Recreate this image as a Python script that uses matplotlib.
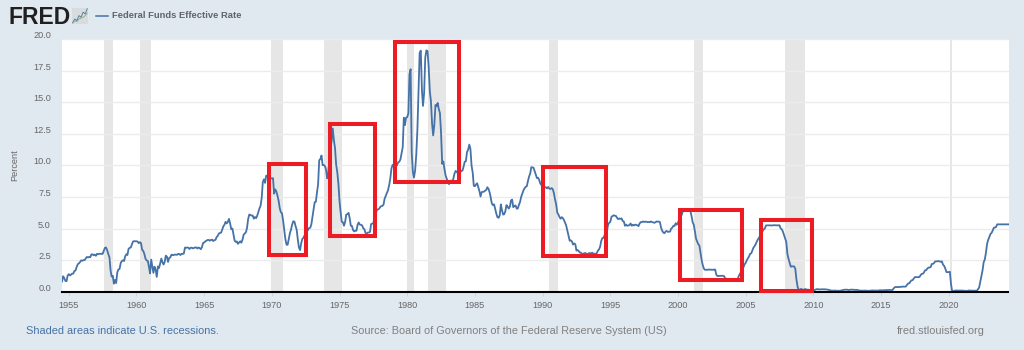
import matplotlib
matplotlib.use('Agg')
import matplotlib.pyplot as plt
from matplotlib.patches import Rectangle
from matplotlib.transforms import ScaledTranslation
import pandas as pd

plt.rcParams['font.family'] = ['Liberation Sans', 'DejaVu Sans']

# Monthly effective rate, Jul 1954 onward.
rate = [
    0.80, 1.22, 1.07, 0.85, 0.83, 1.28,
    1.39, 1.29, 1.35, 1.43, 1.43, 1.64, 1.68, 1.96, 2.18, 2.24, 2.35, 2.48,
    2.45, 2.50, 2.50, 2.62, 2.75, 2.71, 2.75, 2.73, 2.95, 2.96, 2.88, 2.94,
    2.84, 3.00, 2.96, 3.00, 3.00, 3.00, 2.99, 3.24, 3.47, 3.50, 3.28, 2.98,
    2.72, 1.67, 1.20, 1.26, 0.63, 0.93, 0.68, 1.53, 1.76, 1.80, 2.27, 2.42,
    2.48, 2.43, 2.80, 2.96, 2.90, 3.39, 3.47, 3.50, 3.76, 3.98, 4.00, 3.99,
    3.99, 3.97, 3.84, 3.92, 3.85, 3.32, 3.23, 2.98, 2.60, 2.47, 2.44, 1.98,
    1.45, 2.54, 2.02, 1.49, 1.98, 1.73, 1.17, 2.00, 1.88, 2.26, 2.62, 2.33,
    2.15, 2.37, 2.85, 2.78, 2.36, 2.68, 2.71, 2.93, 2.90, 2.90, 2.94, 2.93,
    2.92, 3.00, 2.98, 2.90, 3.00, 2.99, 3.02, 3.49, 3.48, 3.50, 3.48, 3.38,
    3.48, 3.48, 3.43, 3.47, 3.50, 3.50, 3.42, 3.50, 3.45, 3.36, 3.52, 3.85,
    3.90, 3.98, 4.04, 4.09, 4.10, 4.04, 4.09, 4.12, 4.01, 4.08, 4.10, 4.32,
    4.42, 4.60, 4.65, 4.67, 4.90, 5.17, 5.30, 5.53, 5.40, 5.53, 5.76, 5.40,
    4.94, 5.00, 4.53, 4.05, 3.94, 3.98, 3.79, 3.90, 3.99, 3.88, 4.13, 4.51,
    4.61, 4.71, 5.05, 5.76, 6.11, 6.07, 6.02, 6.03, 5.78, 5.91, 5.82, 6.02,
    6.30, 6.61, 6.79, 7.41, 8.67, 8.90, 8.61, 9.19, 9.15, 9.00, 8.85, 8.97,
    8.98, 8.98, 7.76, 8.10, 7.94, 7.60, 7.21, 6.61, 6.29, 6.20, 5.60, 4.90,
    4.14, 3.72, 3.71, 4.15, 4.63, 4.91, 5.31, 5.57, 5.55, 5.20, 4.91, 4.14,
    3.50, 3.29, 3.83, 4.17, 4.27, 4.46, 4.55, 4.80, 4.87, 5.04, 5.06, 5.33,
    5.94, 6.58, 7.09, 7.12, 7.84, 8.49, 10.40, 10.50, 10.78, 10.01, 10.03, 9.95,
    9.65, 8.97, 9.35, 10.51, 11.31, 11.93, 12.92, 12.01, 11.34, 10.06, 9.45, 8.53,
    7.13, 6.24, 5.54, 5.49, 5.22, 5.55, 6.10, 6.14, 6.24, 5.82, 5.22, 5.20,
    4.87, 4.77, 4.84, 4.82, 5.29, 5.48, 5.31, 5.29, 5.25, 5.02, 4.95, 4.65,
    4.61, 4.68, 4.69, 4.73, 5.35, 5.39, 5.42, 5.90, 6.14, 6.47, 6.51, 6.56,
    6.70, 6.78, 6.79, 6.89, 7.36, 7.60, 7.81, 8.04, 8.45, 8.96, 9.76, 10.03,
    10.07, 10.06, 10.09, 10.01, 10.24, 10.29, 10.47, 10.94, 11.43, 13.77, 13.18, 13.78,
    13.82, 14.13, 17.19, 17.61, 10.98, 9.47, 9.03, 9.61, 10.87, 12.81, 15.85, 18.90,
    19.08, 15.93, 14.70, 15.72, 18.52, 19.10, 19.04, 17.82, 15.87, 15.08, 13.31, 12.37,
    13.22, 14.78, 14.68, 14.94, 14.45, 14.15, 12.59, 10.12, 10.31, 9.71, 9.20, 8.95,
    8.68, 8.51, 8.77, 8.80, 8.63, 8.98, 9.37, 9.56, 9.45, 9.48, 9.34, 9.47,
    9.56, 9.59, 9.91, 10.29, 10.32, 11.06, 11.23, 11.64, 11.30, 9.99, 9.43, 8.38,
    8.35, 8.50, 8.58, 8.27, 7.97, 7.53, 7.88, 7.90, 7.92, 7.99, 8.05, 8.27,
    8.14, 7.86, 7.48, 6.99, 6.85, 6.92, 6.56, 6.17, 5.89, 5.85, 6.04, 6.91,
    6.43, 6.10, 6.13, 6.37, 6.85, 6.73, 6.58, 6.73, 7.22, 7.29, 6.69, 6.77,
    6.83, 6.58, 6.58, 6.87, 7.09, 7.51, 7.75, 8.01, 8.19, 8.30, 8.35, 8.76,
    9.12, 9.36, 9.85, 9.84, 9.81, 9.53, 9.24, 8.99, 9.02, 8.84, 8.55, 8.45,
    8.23, 8.24, 8.28, 8.26, 8.18, 8.29, 8.15, 8.13, 8.20, 8.11, 7.81, 7.31,
    6.91, 6.25, 6.12, 5.91, 5.78, 5.90, 5.82, 5.66, 5.45, 5.21, 4.81, 4.43,
    4.03, 4.06, 3.98, 3.73, 3.82, 3.76, 3.25, 3.30, 3.22, 3.10, 3.09, 2.92,
    3.02, 3.03, 3.07, 2.96, 3.00, 3.04, 3.06, 3.03, 3.09, 2.99, 3.02, 2.96,
    3.05, 3.25, 3.34, 3.56, 4.01, 4.25, 4.26, 4.47, 4.73, 4.76, 5.29, 5.45,
    5.53, 5.92, 5.98, 6.05, 6.01, 6.00, 5.85, 5.74, 5.80, 5.76, 5.80, 5.60,
    5.56, 5.22, 5.31, 5.22, 5.24, 5.27, 5.40, 5.22, 5.30, 5.24, 5.31, 5.29,
    5.25, 5.19, 5.39, 5.51, 5.50, 5.56, 5.52, 5.54, 5.54, 5.50, 5.52, 5.50,
    5.56, 5.51, 5.49, 5.45, 5.49, 5.56, 5.54, 5.55, 5.51, 5.07, 4.83, 4.68,
    4.63, 4.76, 4.81, 4.74, 4.74, 4.76, 4.99, 5.07, 5.22, 5.20, 5.42, 5.30,
    5.45, 5.73, 5.85, 6.02, 6.27, 6.53, 6.54, 6.50, 6.52, 6.51, 6.51, 6.40,
    5.98, 5.49, 5.31, 4.80, 4.21, 3.97, 3.77, 3.65, 3.07, 2.49, 2.09, 1.82,
    1.73, 1.74, 1.73, 1.75, 1.75, 1.75, 1.73, 1.74, 1.75, 1.75, 1.34, 1.24,
    1.24, 1.26, 1.25, 1.26, 1.26, 1.22, 1.01, 1.03, 1.01, 1.01, 1.00, 0.98,
    1.00, 1.01, 1.00, 1.00, 1.00, 1.03, 1.26, 1.43, 1.61, 1.76, 1.93, 2.16,
    2.28, 2.50, 2.63, 2.79, 3.00, 3.04, 3.26, 3.50, 3.62, 3.78, 4.00, 4.16,
    4.29, 4.49, 4.59, 4.79, 4.94, 4.99, 5.24, 5.25, 5.25, 5.25, 5.25, 5.24,
    5.25, 5.26, 5.26, 5.25, 5.25, 5.25, 5.26, 5.02, 4.94, 4.76, 4.49, 4.24,
    3.94, 2.98, 2.61, 2.28, 1.98, 2.00, 2.01, 2.00, 1.81, 0.97, 0.39, 0.16,
    0.15, 0.22, 0.18, 0.15, 0.18, 0.21, 0.16, 0.16, 0.15, 0.12, 0.12, 0.12,
    0.11, 0.13, 0.16, 0.20, 0.20, 0.18, 0.18, 0.19, 0.19, 0.19, 0.19, 0.18,
    0.17, 0.16, 0.14, 0.10, 0.09, 0.09, 0.07, 0.10, 0.08, 0.07, 0.08, 0.07,
    0.08, 0.10, 0.13, 0.14, 0.16, 0.16, 0.16, 0.13, 0.14, 0.16, 0.16, 0.16,
    0.14, 0.15, 0.14, 0.15, 0.11, 0.09, 0.09, 0.08, 0.08, 0.09, 0.08, 0.09,
    0.07, 0.07, 0.08, 0.09, 0.09, 0.10, 0.09, 0.09, 0.09, 0.09, 0.09, 0.12,
    0.11, 0.11, 0.11, 0.12, 0.12, 0.13, 0.13, 0.14, 0.14, 0.12, 0.12, 0.24,
    0.34, 0.38, 0.36, 0.37, 0.37, 0.38, 0.39, 0.40, 0.40, 0.40, 0.41, 0.54,
    0.65, 0.66, 0.79, 0.90, 0.91, 1.04, 1.15, 1.16, 1.15, 1.15, 1.16, 1.30,
    1.41, 1.42, 1.51, 1.69, 1.70, 1.82, 1.91, 1.91, 1.95, 2.19, 2.20, 2.27,
    2.40, 2.40, 2.41, 2.42, 2.39, 2.38, 2.40, 2.13, 2.04, 1.83, 1.55, 1.55,
    1.55, 1.58, 0.65, 0.05, 0.05, 0.08, 0.09, 0.10, 0.09, 0.09, 0.09, 0.09,
    0.09, 0.08, 0.07, 0.07, 0.06, 0.08, 0.10, 0.09, 0.08, 0.08, 0.08, 0.08,
    0.08, 0.08, 0.20, 0.33, 0.77, 1.21, 1.68, 2.33, 2.56, 3.08, 3.78, 4.10,
    4.33, 4.57, 4.65, 4.83, 5.06, 5.08, 5.12, 5.33, 5.33, 5.33, 5.33, 5.33,
    5.33, 5.33, 5.33, 5.33, 5.33, 5.33,
]

recession_start = ['1957-08-01', '1960-04-01', '1969-12-01', '1973-11-01', '1980-01-01',
                   '1981-07-01', '1990-07-01', '2001-03-01', '2007-12-01', '2020-02-01']
recession_end = ['1958-04-01', '1961-02-01', '1970-11-01', '1975-03-01', '1980-07-01',
                 '1982-11-01', '1991-03-01', '2001-11-01', '2009-06-01', '2020-04-01']

# Red boxes somebody drew over the chart: year from, year to, low, high.
box_from = [1969.76, 1974.26, 1979.13, 1990.06, 2000.17, 2006.14]
box_to = [1972.49, 1977.58, 1983.86, 1994.70, 2004.74, 2009.90]
box_low = [2.90, 4.41, 8.68, 2.82, 0.93, 0.05]
box_high = [10.10, 13.27, 19.75, 9.87, 6.46, 5.67]

y_ticks = [0.0, 2.5, 5.0, 7.5, 10.0, 12.5, 15.0, 17.5, 20.0]
x_years = [1955, 1960, 1965, 1970, 1975, 1980, 1985, 1990, 1995, 2000, 2005, 2010, 2015, 2020]

# Little chart icon next to the logo.
icon_blue = [1, 3, 2, 5, 4, 7, 6, 9]
icon_green = [0.5, 2, 1.5, 3, 3.5, 4, 5, 6.5]

W, H = 1024, 350
BG = '#e1e9f0'
BLUE = '#4572a7'
GREY = '#666666'

dates = pd.date_range('1954-07-01', periods=len(rate), freq='MS')


def year_date(y):
    # fractional year to a timestamp
    return pd.Timestamp(int(y), 1, 1) + pd.Timedelta(days=(y - int(y)) * 365.25)


fig = plt.figure(figsize=(W / 100, H / 100), dpi=100, facecolor=BG)
ax = fig.add_axes([62 / W, 1 - 291.7 / H, 946.5 / W, 252.7 / H], facecolor='white')

for start, end in zip(recession_start, recession_end):
    ax.axvspan(pd.Timestamp(start), pd.Timestamp(end), color='#e6e6e6', lw=0, zorder=1)

ax.plot(dates, rate, color=BLUE, lw=1.3, zorder=3)

ax.set_xlim(pd.Timestamp('1954-07-01'), pd.Timestamp('2024-06-01'))
ax.set_ylim(0, 20)

ax.set_yticks(y_ticks)
ax.set_yticklabels([f'{v:.1f}' for v in y_ticks])
ax.set_xticks([pd.Timestamp(y, 1, 1) for y in x_years])
ax.set_xticklabels([str(y) for y in x_years])
ax.grid(axis='y', color='#ececec', lw=1, zorder=0)
ax.tick_params(axis='y', length=0, pad=8, labelsize=6.6, labelcolor=GREY)
ax.tick_params(axis='x', length=3, width=0.7, color='#ccd6eb', pad=3.5, labelsize=6.6, labelcolor=GREY)

# FRED puts the y labels just above their gridlines.
shift = ScaledTranslation(0, 4.5 / 100, fig.dpi_scale_trans)
for lab in ax.get_yticklabels():
    lab.set_transform(lab.get_transform() + shift)

for side in ['top', 'left', 'right']:
    ax.spines[side].set_visible(False)
ax.spines['bottom'].set_color('black')
ax.spines['bottom'].set_linewidth(1.5)
ax.spines['bottom'].set_zorder(4)

for x0, x1, low, high in zip(box_from, box_to, box_low, box_high):
    d0, d1 = year_date(x0), year_date(x1)
    ax.add_patch(Rectangle((d0, low), d1 - d0, high - low, fill=False, edgecolor='#ed1c24',
                           lw=2.9, joinstyle='miter', clip_on=False, zorder=5))

# Header
fig.text(8 / W, 1 - 24.5 / H, 'FRED', fontsize=16.5, fontweight='bold', color='#231f20')
icon = fig.add_axes([72 / W, 1 - 24 / H, 16 / W, 16 / H], facecolor='#d8dcdf')
icon.plot(icon_blue, color=BLUE, lw=0.6)
icon.plot(icon_green, color='#8cab62', lw=0.6)
icon.axis('off')
icon.add_patch(Rectangle((0, 0), 1, 1, transform=icon.transAxes, color='#d8dcdf', zorder=0))
fig.add_artist(plt.Line2D([96 / W, 108 / W], [1 - 15.5 / H] * 2, color=BLUE, lw=1.1))
fig.text(112 / W, 1 - 15.8 / H, 'Federal Funds Effective Rate', fontsize=6.75, fontweight='bold',
         color='#5f6468', va='center')

fig.text(15 / W, 1 - 165 / H, 'Percent', fontsize=6.6, color=GREY, rotation=90, ha='center', va='center')

# Footer
fig.text(26 / W, 1 - 331 / H, 'Shaded areas indicate U.S. recessions.', fontsize=7.9, color=BLUE, va='center')
fig.text(351 / W, 1 - 331 / H, 'Source: Board of Governors of the Federal Reserve System (US)',
         fontsize=7.85, color='#7f7f7f', va='center')
fig.text(985 / W, 1 - 331 / H, 'fred.stlouisfed.org', fontsize=7.9, color='#7f7f7f', va='center', ha='right')

fig.savefig('out.png', dpi=100, facecolor=BG)
